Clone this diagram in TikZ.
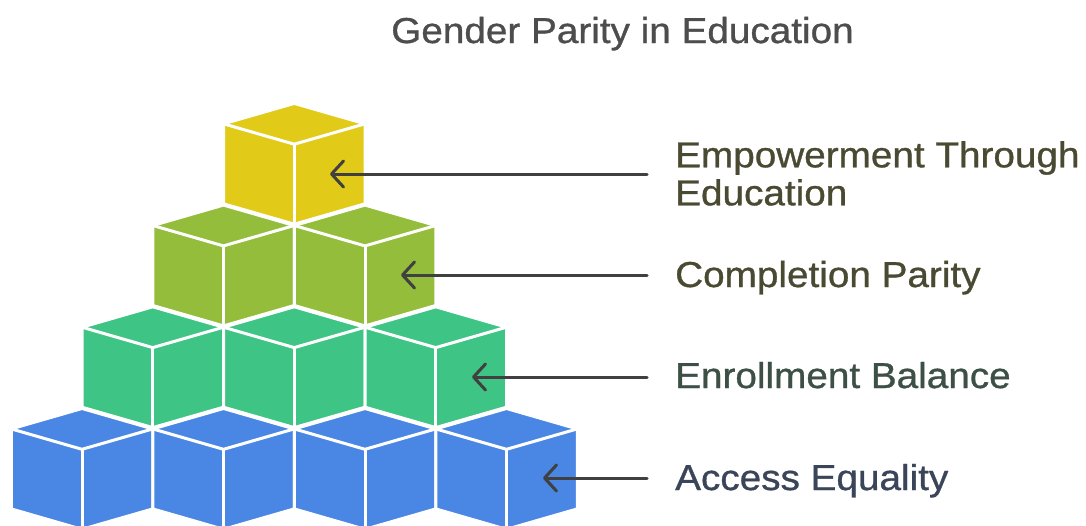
\documentclass[tikz,border=0pt]{standalone}
\usepackage{fontspec}
\setmainfont{Liberation Sans}[FakeStretch=1.075,FakeBold=0.9]
\usetikzlibrary{arrows.meta}
\definecolor{cblue}{HTML}{4A86E4}
\definecolor{cgreen}{HTML}{3EC484}
\definecolor{clime}{HTML}{93BD3A}
\definecolor{cyellow}{HTML}{E2CB18}
\definecolor{ctitle}{HTML}{4D4D4D}
\definecolor{tolive}{HTML}{4A4A33}
\definecolor{tgreen}{HTML}{3C5046}
\definecolor{tslate}{HTML}{3B4559}
\definecolor{carrow}{HTML}{404040}
\tikzset{
  cubeline/.style={draw=white, line width=3pt, line join=round},
  lbl/.style={inner sep=0pt, font=\fontsize{36}{38}\selectfont, align=left},
  pointer/.style={draw=carrow, line width=3pt, line cap=round,
    -{Straight Barb[length=12pt,width=26pt,round]}}
}
% #1 center x, #2 top y, #3 colour
\newcommand{\isocube}[3]{%
  \fill[#3, cubeline] (#1,#2) -- (#1+70.75,#2+20.4) -- (#1+70.75,#2+100.4)
     -- (#1,#2+120.8) -- (#1-70.75,#2+100.4) -- (#1-70.75,#2+20.4) -- cycle;
  \draw[cubeline] (#1-70.75,#2+20.4) -- (#1,#2+40.8) -- (#1+70.75,#2+20.4);
  \draw[cubeline] (#1,#2+40.8) -- (#1,#2+120.8);
}
\begin{document}
\begin{tikzpicture}[x=1pt,y=-1pt]
\useasboundingbox (0,0) rectangle (1086,525);
\begin{scope}
\clip (0,0) rectangle (1086,525);
% yellow row
\isocube{294.25}{103.4}{cyellow}
% lime row
\isocube{223.5}{205.1}{clime}
\isocube{365}{205.1}{clime}
% green row
\isocube{152.75}{306.8}{cgreen}
\isocube{294.25}{306.8}{cgreen}
\isocube{435.75}{306.8}{cgreen}
% blue row
\isocube{82}{408.5}{cblue}
\isocube{223.5}{408.5}{cblue}
\isocube{365}{408.5}{cblue}
\isocube{506.5}{408.5}{cblue}
\end{scope}
% title
\node[lbl, text=ctitle, anchor=base] (title) at (622.5,43) {Gender Parity in Education};
% labels
\node[lbl, text=tolive, anchor=north west] (l1) at (675,141) {Empowerment Through\\Education};
\node[lbl, text=tolive, anchor=base west] (l2) at (675,287) {Completion Parity};
\node[lbl, text=tgreen, anchor=base west] (l3) at (675,388) {Enrollment Balance};
\node[lbl, text=tslate, anchor=base west] (l4) at (675,490) {Access Equality};
% arrow tips
\coordinate (t1) at (330,174);
\coordinate (t2) at (401,275);
\coordinate (t3) at (472,377);
\coordinate (t4) at (543,478);
\coordinate (s1) at (647,174);
\coordinate (s2) at (647,275);
\coordinate (s3) at (647,377);
\coordinate (s4) at (647,478);
\draw[pointer] (s1) -- (t1);
\draw[pointer] (s2) -- (t2);
\draw[pointer] (s3) -- (t3);
\draw[pointer] (s4) -- (t4);
\end{tikzpicture}
\end{document}
